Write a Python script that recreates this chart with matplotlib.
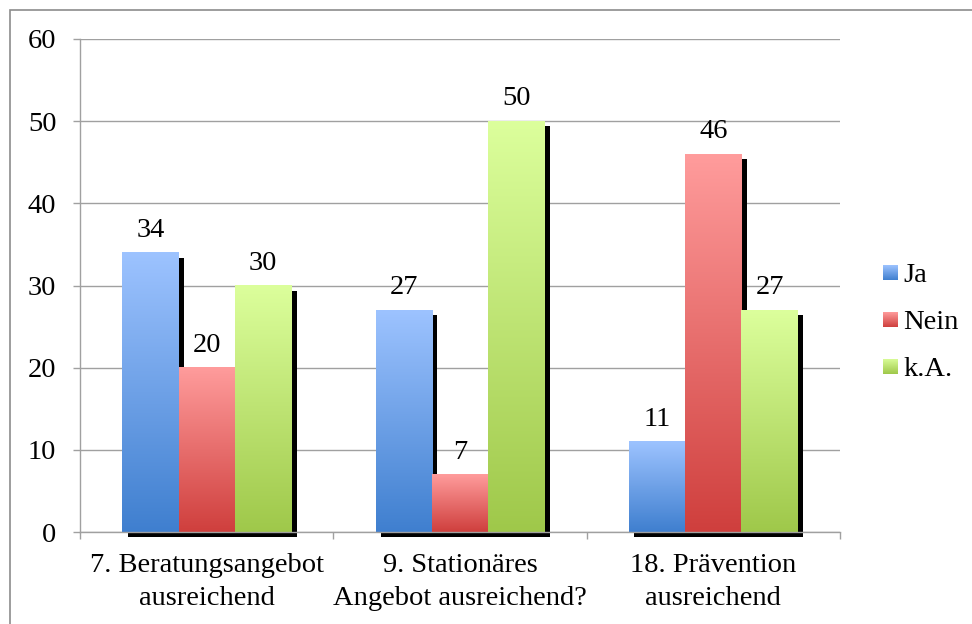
import numpy as np
import matplotlib
matplotlib.use("Agg")
import matplotlib.pyplot as plt
from matplotlib.patches import Rectangle
from matplotlib.transforms import ScaledTranslation

categories = ["7. Beratungsangebot\nausreichend",
              "9. Stationäres\nAngebot ausreichend?",
              "18. Prävention\nausreichend"]
series_names = ["Ja", "Nein", "k.A."]
ja = [34, 27, 11]
nein = [20, 7, 46]
ka = [30, 50, 27]
yticks = [0, 10, 20, 30, 40, 50, 60]

# gradient colours per series: (top, bottom)
grad = {
    "Ja": ("#9DC3FF", "#3F7FCF"),
    "Nein": ("#FF9C9C", "#CF3F3D"),
    "k.A.": ("#DCFF9C", "#9FC84A"),
}

plt.rcParams["font.family"] = ["Liberation Serif", "DejaVu Serif"]
FS = 20.5

fig = plt.figure(figsize=(9.72, 6.24), dpi=100)
fig.patch.set_facecolor("white")

# outer chart border
fig.add_artist(Rectangle((10 / 972, -0.05), 1.1, 1 - 10 / 624 + 0.05,
                         transform=fig.transFigure, fill=False,
                         edgecolor="#8C8C8C", lw=1.2))

ax = fig.add_axes([80 / 972, 1 - 532 / 624, (840 - 80) / 972, (532 - 39) / 624])

values = [ja, nein, ka]
n_series = len(values)
bw = 1 / (n_series + 1.5)
x = np.arange(len(categories))

def gradient_img(c_top, c_bot, n=256):
    t = np.linspace(0, 1, n)[:, None]
    top = np.array(matplotlib.colors.to_rgb(c_top))
    bot = np.array(matplotlib.colors.to_rgb(c_bot))
    rgb = top[None, :] * (1 - t) + bot[None, :] * t
    return rgb[:, None, :]

shadow_tr = ax.transData + ScaledTranslation(5.5 / 100, -5 / 100, fig.dpi_scale_trans)

for si, (name, vals) in enumerate(zip(series_names, values)):
    c_top, c_bot = grad[name]
    img = gradient_img(c_top, c_bot)
    for ci, v in enumerate(vals):
        x0 = x[ci] + (si - 1) * bw - bw / 2
        ax.add_patch(Rectangle((x0, 0), bw, v, facecolor="black",
                               edgecolor="none", transform=shadow_tr,
                               zorder=2, clip_on=False))
        ax.imshow(img, extent=[x0, x0 + bw, 0, v], aspect="auto",
                  origin="upper", zorder=3, interpolation="bilinear")
        ax.annotate(f"{v}", (x0 + bw / 2, v), xytext=(0, 7),
                    textcoords="offset points", ha="center", va="bottom",
                    fontsize=FS, color="black", zorder=5)

ax.set_xlim(-0.5, len(categories) - 0.5)
ax.set_ylim(0, 60)
ax.set_yticks(yticks)
ax.set_yticklabels([str(t) for t in yticks])
ax.set_xticks(x)
ax.set_xticklabels(categories, fontsize=FS, linespacing=1.45)
ax.set_xticks(np.arange(len(categories) + 1) - 0.5, minor=True)

gc = "#A0A0A0"
ax.grid(axis="y", color=gc, lw=1.0, zorder=1)
ax.set_axisbelow(True)
for s in ["top", "right"]:
    ax.spines[s].set_visible(False)
for s in ["left", "bottom"]:
    ax.spines[s].set_color(gc)
    ax.spines[s].set_linewidth(1.0)
    ax.spines[s].set_zorder(4)
ax.tick_params(axis="y", length=5, width=1, color=gc, labelsize=FS, pad=12)
ax.tick_params(axis="x", which="major", length=0, pad=15)
ax.tick_params(axis="x", which="minor", length=5, width=1, color=gc)
ax.set_facecolor("none")

# legend with gradient swatches
for i, name in enumerate(series_names):
    yc = 272 + i * 47.5
    sw = fig.add_axes([883 / 972, 1 - (yc + 7.5) / 624, 15 / 972, 15 / 624])
    sw.imshow(gradient_img(*grad[name]), aspect="auto", interpolation="bilinear")
    sw.set_axis_off()
    fig.text(903 / 972, 1 - yc / 624, name, fontsize=FS, ha="left",
             va="center_baseline")

fig.savefig("out.png", dpi=100, facecolor="white")
